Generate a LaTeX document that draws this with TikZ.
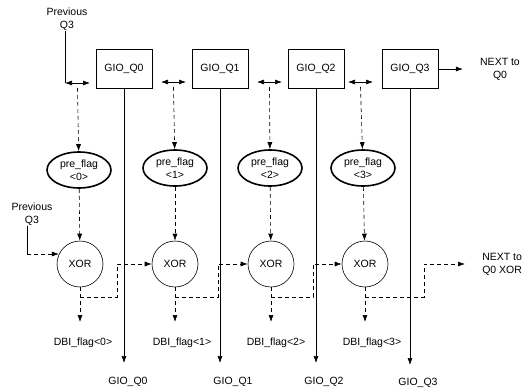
\documentclass[tikz,border=0pt]{standalone}
\usepackage{fontspec}
\setsansfont{Liberation Sans}
\usetikzlibrary{arrows.meta,shapes,positioning,calc}

\tikzset{
  gio/.style={draw, line width=0.7pt, minimum width=56pt, minimum height=39pt, inner sep=0pt},
  flag/.style={draw, ellipse, line width=1.6pt, minimum width=64pt, minimum height=36pt, inner sep=0pt, align=center},
  xorgate/.style={draw, circle, line width=0.6pt, minimum size=46pt, inner sep=0pt},
  lbl/.style={align=center, inner sep=0pt},
  dsh/.style={dash pattern=on 4pt off 3pt},
}

\begin{document}
\begin{tikzpicture}[x=1pt, y=-1pt, line width=0.6pt,
    >={Latex[length=7pt,width=5pt]},
    font=\sffamily\fontsize{10.5}{13}\selectfont]
  \useasboundingbox (0,0) rectangle (530,391);

  % GIO registers
  \node[gio] (g0) at (124,69) {GIO\_Q0};
  \node[gio] (g1) at (220,69) {GIO\_Q1};
  \node[gio] (g2) at (316,69) {GIO\_Q2};
  \node[gio] (g3) at (410,69) {GIO\_Q3};

  % pre flags
  \node[flag] (p0) at (79,170) {pre\_flag\\<0>};
  \node[flag] (p1) at (175,168) {pre\_flag\\<1>};
  \node[flag] (p2) at (270,168) {pre\_flag\\<2>};
  \node[flag] (p3) at (363,168) {pre\_flag\\<3>};

  % XOR gates
  \node[xorgate] (x0) at (80,264) {XOR};
  \node[xorgate] (x1) at (175,264) {XOR};
  \node[xorgate] (x2) at (271,264) {XOR};
  \node[xorgate] (x3) at (365,264) {XOR};

  % labels
  \node[lbl] (prevA) at (67,19) {Previous\\Q3};
  \node[lbl] (prevB) at (32,214) {Previous\\Q3};
  \node[lbl] (nextA) at (500,69) {NEXT to\\Q0};
  \node[lbl, align=left, anchor=west] (nextB) at (482,264) {NEXT to\\Q0 XOR};
  \node[lbl] (d0) at (83,343) {DBI\_flag<0>};
  \node[lbl] (d1) at (182,343) {DBI\_flag<1>};
  \node[lbl] (d2) at (276,343) {DBI\_flag<2>};
  \node[lbl] (d3) at (372,343) {DBI\_flag<3>};
  \node[lbl] (o0) at (128,382) {GIO\_Q0};
  \node[lbl] (o1) at (233,382) {GIO\_Q1};
  \node[lbl] (o2) at (324,382) {GIO\_Q2};
  \node[lbl] (o3) at (418,383) {GIO\_Q3};

  % shared arrows between registers
  \coordinate (l0) at (65,83);  \coordinate (r0) at (90,83);
  \coordinate (l1) at (161,82); \coordinate (r1) at (186,82);
  \coordinate (l2) at (257,82); \coordinate (r2) at (282,82);
  \coordinate (l3) at (348,82); \coordinate (r3) at (373,82);
  \draw (prevA.south -| l0) -- (l0);
  \draw[<->] (l0) -- (r0);
  \draw[<->] (l1) -- (r1);
  \draw[<->] (l2) -- (r2);
  \draw[<->] (l3) -- (r3);
  \draw[dsh,->] ($(l0)!0.5!(r0)+(0,5)$) -- (p0);
  \draw[dsh,->] ($(l1)!0.5!(r1)+(0,5)$) -- (p1);
  \draw[dsh,->] ($(l2)!0.5!(r2)+(0,5)$) -- (p2);
  \draw[dsh,->] ($(l3)!0.5!(r3)+(0,5)$) -- (p3);
  \draw[->, shorten >=17pt] (g3) -- (nextA);

  % register outputs
  \coordinate (v0) at (124,363);
  \coordinate (v1) at (220,363);
  \coordinate (v2) at (316,363);
  \coordinate (v3) at (410,365);
  \draw[->] (g0) -- (v0);
  \draw[->] (g1) -- (v1);
  \draw[->] (g2) -- (v2);
  \draw[->] (g3) -- (v3);

  % flags into XOR
  \draw[dsh,->] (p0) -- (x0);
  \draw[dsh,->] (p1) -- (x1);
  \draw[dsh,->] (p2) -- (x2);
  \draw[dsh,->] (p3) -- (x3);

  % previous Q3 into first XOR
  \coordinate (k0) at (27,254);
  \draw (prevB.south -| k0) -- (k0);
  \draw[dsh,->] (k0) -- (k0 -| x0.155);

  % XOR outputs
  \coordinate (e0) at (80,322);  \coordinate (b0) at (80,297);  \coordinate (t0) at (117,264);
  \coordinate (e1) at (175,322); \coordinate (b1) at (175,297); \coordinate (t1) at (218,264);
  \coordinate (e2) at (271,322); \coordinate (b2) at (271,297); \coordinate (t2) at (313,264);
  \coordinate (e3) at (365,322); \coordinate (b3) at (365,297); \coordinate (t3) at (424,264);
  \draw[dsh,->] (x0) -- (e0);
  \draw[dsh,->] (x1) -- (e1);
  \draw[dsh,->] (x2) -- (e2);
  \draw[dsh,->] (x3) -- (e3);
  \draw[dsh,->] (b0) -| (t0) -- (x1);
  \draw[dsh,->] (b1) -| (t1) -- (x2);
  \draw[dsh,->] (b2) -| (t2) -- (x3);
  \draw[dsh,->, shorten >=17pt] (b3) -| (t3) -- (nextB.west);
\end{tikzpicture}
\end{document}
